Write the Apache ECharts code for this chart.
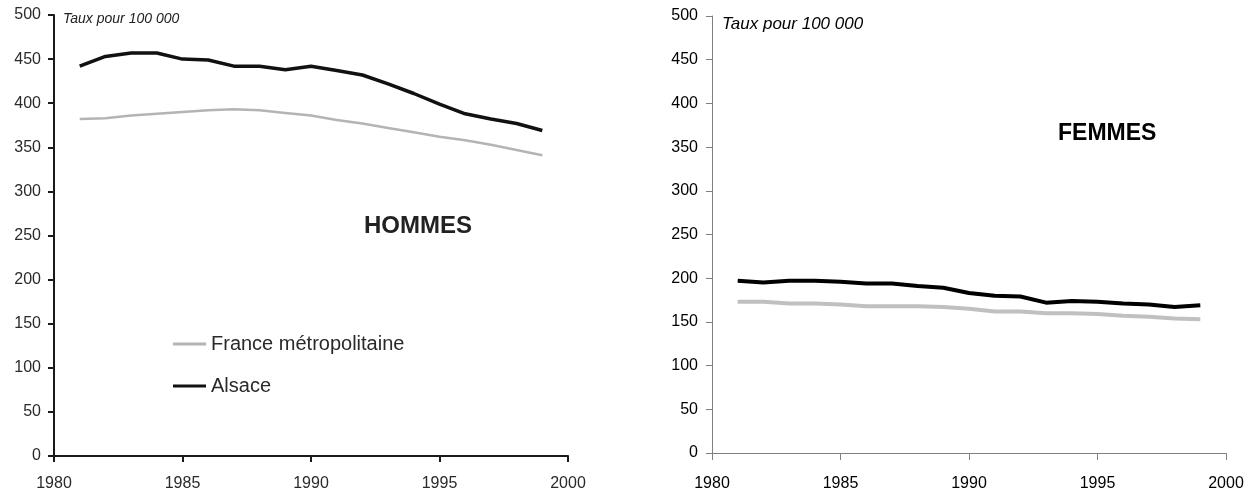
<!DOCTYPE html>
<html>
<head>
<meta charset="utf-8">
<script src="https://cdn.jsdelivr.net/npm/echarts@6/dist/echarts.min.js"></script>
<style>
  html, body { margin: 0; padding: 0; background: #fff; }
  #chart { width: 1260px; height: 498px; }
</style>
</head>
<body>
<div id="chart"></div>
<script>
var years = [1981, 1982, 1983, 1984, 1985, 1986, 1987, 1988, 1989, 1990,
             1991, 1992, 1993, 1994, 1995, 1996, 1997, 1998, 1999];

// Hommes (left panel)
var hommesFrance = [382, 383, 386, 388, 390, 392, 393, 392, 389, 386,
                    381, 377, 372, 367, 362, 358, 353, 347, 341];
var hommesAlsace = [442, 453, 457, 457, 450, 449, 442, 442, 438, 442,
                    437, 432, 422, 411, 399, 388, 382, 377, 369];

// Femmes (right panel)
var femmesFrance = [173, 173, 171, 171, 170, 168, 168, 168, 167, 165,
                    162, 162, 160, 160, 159, 157, 156, 154, 153];
var femmesAlsace = [197, 195, 197, 197, 196, 194, 194, 191, 189, 183,
                    180, 179, 172, 174, 173, 171, 170, 167, 169];

var seriesNames = ['France métropolitaine', 'Alsace'];

function pairs(vals) {
  var out = [];
  for (var i = 0; i < years.length; i++) {
    out.push([years[i], vals[i]]);
  }
  return out;
}

function yearFmt(v) { return String(v); }

var chartDom = document.getElementById('chart');
var myChart = echarts.init(chartDom);
var option;

var leftAxisLine = { lineStyle: { color: '#1a1a1a', width: 2 } };
var leftLabel = { color: '#2a2a2a', fontSize: 16, fontFamily: 'Liberation Sans' };
var rightAxisLine = { lineStyle: { color: '#808080', width: 1 } };
var rightLabel = { color: '#000', fontSize: 16, fontFamily: 'Liberation Sans' };

option = {
  animation: false,
  backgroundColor: '#fff',
  title: [
    {
      text: 'HOMMES', padding: 0,
      left: 364, top: 214,
      textStyle: { fontSize: 24, fontWeight: 'bold', color: '#222', fontFamily: 'Liberation Sans' }
    },
    {
      text: 'FEMMES', padding: 0,
      left: 1058, top: 122,
      textStyle: { fontSize: 23, fontWeight: 'bold', color: '#000', fontFamily: 'Liberation Sans' }
    },
    {
      text: 'Taux pour 100 000', padding: 0,
      left: 63, top: 12,
      textStyle: { fontSize: 14, fontStyle: 'italic', fontWeight: 'normal', color: '#222', fontFamily: 'Liberation Sans' }
    },
    {
      text: 'Taux pour 100 000', padding: 0,
      left: 722, top: 16,
      textStyle: { fontSize: 17, fontStyle: 'italic', fontWeight: 'normal', color: '#000', fontFamily: 'Liberation Sans' }
    }
  ],
  legend: {
    data: seriesNames,
    orient: 'vertical',
    left: 173,
    top: 334,
    padding: 0,
    itemWidth: 33,
    itemHeight: 3,
    itemGap: 22,
    icon: 'rect',
    textStyle: { fontSize: 20, color: '#2a2a2a', fontFamily: 'Liberation Sans' }
  },
  grid: [
    { left: 54, top: 15, width: 514, height: 441 },
    { left: 712, top: 16, width: 514, height: 437 }
  ],
  xAxis: [
    {
      gridIndex: 0, type: 'value', min: 1980, max: 2000, interval: 5,
      axisLine: leftAxisLine,
      axisTick: { show: true, length: 6, lineStyle: { color: '#1a1a1a', width: 2 } },
      axisLabel: Object.assign({ margin: 20, formatter: yearFmt }, leftLabel),
      splitLine: { show: false }
    },
    {
      gridIndex: 1, type: 'value', min: 1980, max: 2000, interval: 5,
      axisLine: rightAxisLine,
      axisTick: { show: true, length: 7, lineStyle: { color: '#808080' } },
      axisLabel: Object.assign({ margin: 23, formatter: yearFmt }, rightLabel),
      splitLine: { show: false }
    }
  ],
  yAxis: [
    {
      gridIndex: 0, type: 'value', min: 0, max: 500, interval: 50,
      axisLine: Object.assign({ show: true }, leftAxisLine),
      axisTick: { show: true, length: 6, lineStyle: { color: '#1a1a1a', width: 2 } },
      axisLabel: Object.assign({ margin: 13 }, leftLabel),
      splitLine: { show: false }
    },
    {
      gridIndex: 1, type: 'value', min: 0, max: 500, interval: 50,
      axisLine: Object.assign({ show: true }, rightAxisLine),
      axisTick: { show: true, length: 6, lineStyle: { color: '#808080' } },
      axisLabel: Object.assign({ margin: 14 }, rightLabel),
      splitLine: { show: false }
    }
  ],
  series: [
    {
      name: seriesNames[0], type: 'line', xAxisIndex: 0, yAxisIndex: 0,
      data: pairs(hommesFrance), showSymbol: false,
      lineStyle: { color: '#b4b4b4', width: 2.5 }, itemStyle: { color: '#b4b4b4' }
    },
    {
      name: seriesNames[1], type: 'line', xAxisIndex: 0, yAxisIndex: 0,
      data: pairs(hommesAlsace), showSymbol: false,
      lineStyle: { color: '#111', width: 3.5 }, itemStyle: { color: '#111' }
    },
    {
      name: seriesNames[0], type: 'line', xAxisIndex: 1, yAxisIndex: 1,
      data: pairs(femmesFrance), showSymbol: false,
      lineStyle: { color: '#c0c0c0', width: 4 }, itemStyle: { color: '#c0c0c0' }
    },
    {
      name: seriesNames[1], type: 'line', xAxisIndex: 1, yAxisIndex: 1,
      data: pairs(femmesAlsace), showSymbol: false,
      lineStyle: { color: '#000', width: 4 }, itemStyle: { color: '#000' }
    }
  ]
};

option && myChart.setOption(option);
</script>
</body>
</html>
